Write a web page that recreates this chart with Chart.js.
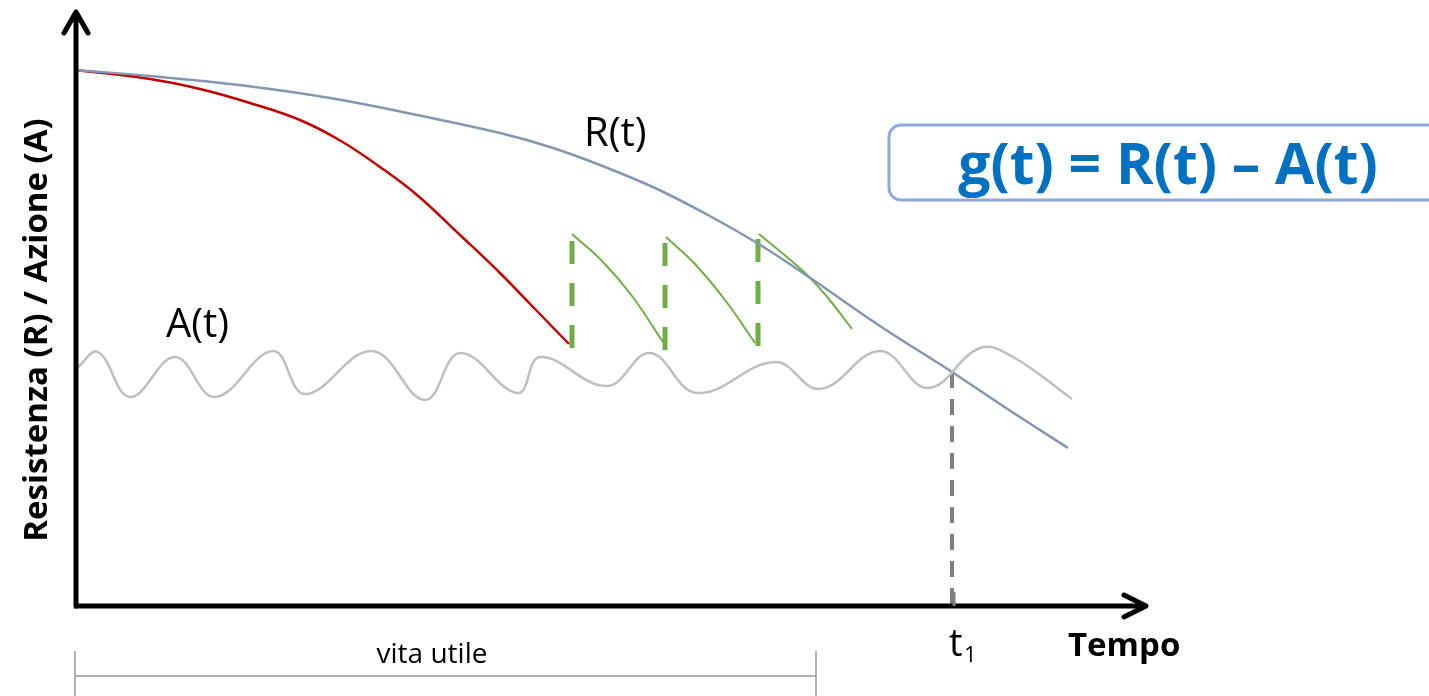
<!DOCTYPE html>
<html>
<head>
<meta charset="utf-8">
<script src="https://cdn.jsdelivr.net/npm/chart.js@4.4.0/dist/chart.umd.min.js"></script>
<style>
  html, body { margin: 0; padding: 0; background: #fff; }
  #wrap { position: relative; width: 1429px; height: 696px; }
</style>
</head>
<body>
<div id="wrap"><canvas id="chart"></canvas></div>
<script>
// x = time from the origin, y = value above the time axis
const rTime  = [0, 75, 164, 255, 342, 425, 475, 525, 580, 631, 682, 731, 805, 877, 931, 993];
const rValue = [536, 530, 521, 508, 491, 473, 459, 441, 418, 392, 363, 331, 280, 234, 198, 158];

// resistance without maintenance
const redTime  = [1, 75, 125, 175, 225, 266, 305, 342, 385, 425, 460, 494];
const redValue = [536, 527, 517, 503, 486, 465, 439, 411, 371, 333, 297, 262];

// resistance after each maintenance
const g1Time  = [497, 528, 557, 588];
const g1Value = [372, 344, 310, 264];
const g2Time  = [591, 619, 650, 680];
const g2Value = [369, 343, 306, 263];
const g3Time  = [684, 728, 753, 777];
const g3Value = [372, 335, 308, 277];

// maintenance jumps
const maintTime   = [497, 590, 683];
const maintTop    = [365, 363, 367];
const maintBottom = [258, 255, 259];

// action A(t)
const aTime  = [2, 23, 55, 100, 140, 198, 230, 297, 350, 385, 443, 465, 532, 575, 622, 700, 745, 805, 853, 905, 938, 997];
const aValue = [238, 254, 209, 249, 209, 255, 212, 255, 206, 253, 213, 249, 220, 253, 213, 244, 217, 255, 218, 258, 249, 207];

// failure time and end of useful life
const t1Time = 877;
const t1Value = 234;
const lifeEnd = 741;

const xMax = 1070;
const yMax = 590;

function pts(xs, ys) {
  return xs.map((x, i) => ({ x: x, y: ys[i] }));
}

const green = "#70AD47";

const datasets = [
  { data: pts(aTime, aValue), borderColor: "#BFBFBF", borderWidth: 2.5, tension: 0.4 },
  { data: pts(rTime, rValue), borderColor: "#8497B0", borderWidth: 2.5, tension: 0.4 },
  { data: pts(redTime, redValue), borderColor: "#C00000", borderWidth: 2.5, tension: 0.4 },
  { data: pts(g1Time, g1Value), borderColor: green, borderWidth: 2, tension: 0.4 },
  { data: pts(g2Time, g2Value), borderColor: green, borderWidth: 2, tension: 0.4 },
  { data: pts(g3Time, g3Value), borderColor: green, borderWidth: 2, tension: 0.4 },
  { data: [{ x: t1Time, y: t1Value }, { x: t1Time, y: 0 }], borderColor: "#7F7F7F", borderWidth: 4, borderDash: [16, 11] }
];
maintTime.forEach((t, i) => {
  datasets.push({
    data: [{ x: t, y: maintTop[i] }, { x: t, y: maintBottom[i] }],
    borderColor: green, borderWidth: 5, borderDash: [23, 19], borderCapStyle: "butt"
  });
});

const decorations = {
  id: "decorations",
  afterDraw(chart) {
    const ctx = chart.ctx;
    const xs = chart.scales.x, ys = chart.scales.y;
    const x0 = xs.getPixelForValue(0) + 1;
    const y0 = ys.getPixelForValue(0);
    const xEnd = xs.getPixelForValue(xMax) + 1;
    const yTop = ys.getPixelForValue(yMax) - 4;

    ctx.save();
    // axes with arrows
    ctx.strokeStyle = "#000";
    ctx.lineWidth = 5;
    ctx.lineCap = "round";
    ctx.lineJoin = "round";
    ctx.beginPath();
    ctx.moveTo(x0, y0);
    ctx.lineTo(x0, yTop);
    ctx.moveTo(x0 - 12, yTop + 21);
    ctx.lineTo(x0, yTop);
    ctx.lineTo(x0 + 12, yTop + 21);
    ctx.stroke();
    ctx.beginPath();
    ctx.lineCap = "butt";
    ctx.moveTo(x0 - 2, y0);
    ctx.lineTo(xEnd, y0);
    ctx.stroke();
    ctx.beginPath();
    ctx.lineCap = "round";
    ctx.moveTo(xEnd - 22, y0 - 11);
    ctx.lineTo(xEnd, y0);
    ctx.lineTo(xEnd - 22, y0 + 11);
    ctx.stroke();

    // t1 tick
    const xt = xs.getPixelForValue(t1Time);
    ctx.strokeStyle = "#7F7F7F";
    ctx.lineWidth = 3;
    ctx.lineCap = "butt";
    ctx.beginPath();
    ctx.moveTo(xt + 2, y0 - 14);
    ctx.lineTo(xt + 2, y0);
    ctx.stroke();

    // useful life bracket
    const xl = xs.getPixelForValue(lifeEnd);
    ctx.strokeStyle = "#999";
    ctx.lineWidth = 1.5;
    ctx.beginPath();
    ctx.moveTo(x0 - 1, y0 + 45);
    ctx.lineTo(x0 - 1, 700);
    ctx.moveTo(xl, y0 + 45);
    ctx.lineTo(xl, 700);
    ctx.moveTo(x0 - 1, y0 + 70);
    ctx.lineTo(xl, y0 + 70);
    ctx.stroke();

    // labels
    ctx.fillStyle = "#000";
    ctx.textBaseline = "alphabetic";
    ctx.textAlign = "left";
    ctx.font = "40px 'Open Sans'";
    ctx.fillText("R(t)", 584, 146);
    ctx.fillText("A(t)", 166, 337);
    ctx.font = "38px 'Open Sans'";
    ctx.fillText("t", xt - 3, 656);
    ctx.font = "22px 'Open Sans'";
    ctx.fillText("1", xt + 12, 662);
    ctx.font = "28px 'Open Sans'";
    ctx.textAlign = "center";
    ctx.fillText("vita utile", (x0 + xl) / 2 - 14, 663);
    ctx.textAlign = "left";
    ctx.font = "bold 33px 'Open Sans'";
    ctx.fillText("Tempo", 1068, 656);

    ctx.save();
    ctx.translate(47, 330);
    ctx.rotate(-Math.PI / 2);
    ctx.textAlign = "center";
    ctx.font = "bold 33px 'Open Sans'";
    ctx.fillText("Resistenza (R) / Azione (A)", 0, 0);
    ctx.restore();

    // formula box
    ctx.strokeStyle = "#8FAADC";
    ctx.lineWidth = 3;
    ctx.beginPath();
    ctx.roundRect(889, 125, 620, 75, 12);
    ctx.stroke();
    ctx.fillStyle = "#0070C0";
    ctx.textAlign = "center";
    ctx.font = "bold 57px 'Open Sans'";
    ctx.fillText("g(t) = R(t) \u2013 A(t)", 1168, 184);
    ctx.restore();
  }
};

new Chart(document.getElementById("chart"), {
  type: "line",
  data: { datasets: datasets },
  options: {
    responsive: true,
    maintainAspectRatio: false,
    animation: false,
    layout: { padding: { left: 75, right: 284, top: 16, bottom: 90 } },
    elements: { point: { radius: 0 } },
    plugins: { legend: { display: false }, tooltip: { enabled: false } },
    scales: {
      x: { type: "linear", min: 0, max: xMax, display: false },
      y: { type: "linear", min: 0, max: yMax, display: false }
    }
  },
  plugins: [decorations]
});
</script>
</body>
</html>
